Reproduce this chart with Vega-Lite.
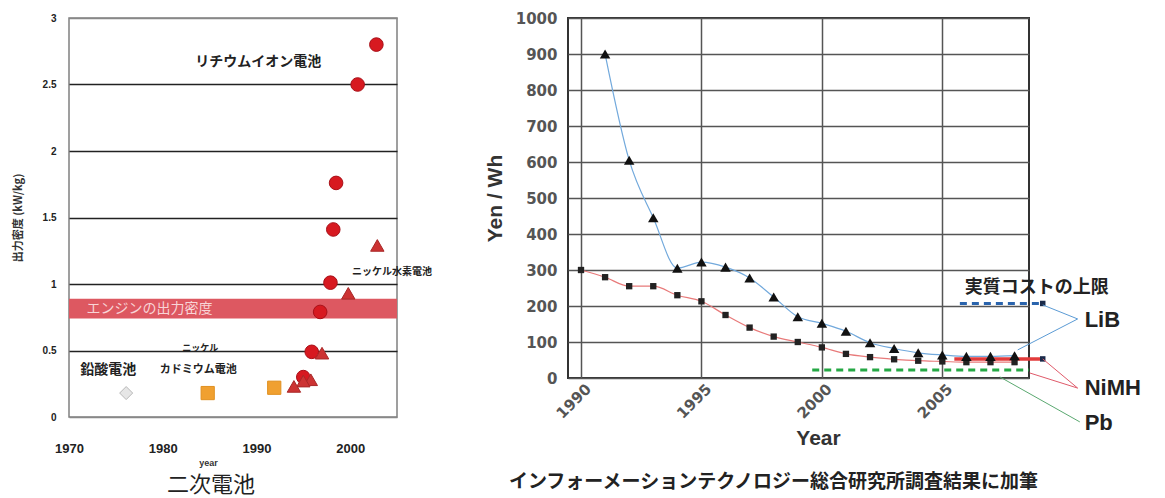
{
  "$schema": "https://vega.github.io/schema/vega-lite/v6.json",
  "padding": {"left": 11, "top": 10, "right": 0, "bottom": 0},
  "background": "white",
  "config": {"view": {"stroke": null}, "font": "Liberation Sans"},
  "spacing": 171,
  "bounds": "flush",
  "datasets": {
    "pts": [
      {"year": 2002.8, "v": 2.80, "type": "Li-ion"},
      {"year": 2000.8, "v": 2.50, "type": "Li-ion"},
      {"year": 1998.5, "v": 1.76, "type": "Li-ion"},
      {"year": 1998.2, "v": 1.41, "type": "Li-ion"},
      {"year": 1997.9, "v": 1.01, "type": "Li-ion"},
      {"year": 1996.8, "v": 0.79, "type": "Li-ion"},
      {"year": 1995.9, "v": 0.49, "type": "Li-ion"},
      {"year": 1995.0, "v": 0.30, "type": "Li-ion"},
      {"year": 2002.9, "v": 1.29, "type": "NiMH"},
      {"year": 1999.8, "v": 0.93, "type": "NiMH"},
      {"year": 1997.0, "v": 0.48, "type": "NiMH"},
      {"year": 1995.8, "v": 0.28, "type": "NiMH"},
      {"year": 1995.0, "v": 0.27, "type": "NiMH"},
      {"year": 1994.0, "v": 0.23, "type": "NiMH"},
      {"year": 1984.8, "v": 0.18, "type": "NiCd"},
      {"year": 1991.9, "v": 0.22, "type": "NiCd"},
      {"year": 1976.1, "v": 0.18, "type": "Pb"}
    ],
    "lib": [
      {"year": 1991, "v": 900}, {"year": 1992, "v": 605}, {"year": 1993, "v": 445},
      {"year": 1994, "v": 305}, {"year": 1995, "v": 322}, {"year": 1996, "v": 308},
      {"year": 1997, "v": 278}, {"year": 1998, "v": 225}, {"year": 1999, "v": 170},
      {"year": 2000, "v": 152}, {"year": 2001, "v": 130}, {"year": 2002, "v": 98},
      {"year": 2003, "v": 82}, {"year": 2004, "v": 70}, {"year": 2005, "v": 64},
      {"year": 2006, "v": 60}, {"year": 2007, "v": 60}, {"year": 2008, "v": 62}
    ],
    "nimh": [
      {"year": 1990, "v": 300}, {"year": 1991, "v": 280}, {"year": 1992, "v": 255},
      {"year": 1993, "v": 255}, {"year": 1994, "v": 230}, {"year": 1995, "v": 213},
      {"year": 1996, "v": 175}, {"year": 1997, "v": 140}, {"year": 1998, "v": 115},
      {"year": 1999, "v": 100}, {"year": 2000, "v": 85}, {"year": 2001, "v": 67},
      {"year": 2002, "v": 58}, {"year": 2003, "v": 52}, {"year": 2004, "v": 48},
      {"year": 2005, "v": 46}, {"year": 2006, "v": 44}, {"year": 2007, "v": 44},
      {"year": 2008, "v": 44}
    ]
  },
  "hconcat": [
    {
      "width": 328,
      "height": 399,
      "view": {"stroke": "#808080", "strokeWidth": 1.5},
      "title": {"text": "二次電池", "orient": "bottom", "font": "Noto Sans CJK JP", "fontSize": 22, "fontWeight": "normal", "color": "#222", "dx": -22, "offset": 8},
      "encoding": {
        "x": {"field": "year", "type": "quantitative", "scale": {"domain": [1970, 2005], "nice": false, "zero": false},
          "axis": {"values": [1970, 1980, 1990, 2000], "format": "d", "grid": false, "domain": false, "ticks": false,
            "labelFont": "Liberation Sans", "labelFontWeight": "bold", "labelFontSize": 13, "labelColor": "#222",
            "labelPadding": 25, "labelFlush": false, "labelOverlap": false,
            "title": "year", "titleFontSize": 9, "titleFontWeight": "bold", "titleColor": "#333",
            "titleX": 139, "titleY": 45, "titleBaseline": "middle", "titleAlign": "center"}},
        "y": {"field": "v", "type": "quantitative", "scale": {"domain": [0, 3], "nice": false, "zero": false},
          "axis": {"values": [0, 0.5, 1, 1.5, 2, 2.5, 3], "format": "~g", "grid": true,
            "gridColor": {"condition": {"test": "datum.value === 0 || datum.value === 3", "value": "#888"}, "value": "#222"},
            "gridWidth": 1.5, "domain": false, "ticks": false,
            "labelFont": "Liberation Sans", "labelFontSize": 10, "labelFontWeight": "bold", "labelColor": "#222",
            "labelPadding": 13, "labelFlush": false,
            "title": "出力密度 (kW/kg)", "titleFont": "Noto Sans CJK JP", "titleFontSize": 11, "titleFontWeight": "bold",
            "titleColor": "#333", "titlePadding": 19}}
      },
      "layer": [
        {
          "data": {"values": [{"year": 1970, "year2": 2005, "v": 0.74, "v2": 0.89}]},
          "mark": {"type": "rect", "color": "#dd5861"},
          "encoding": {"x2": {"field": "year2"}, "y2": {"field": "v2"}}
        },
        {
          "data": {"name": "pts"},
          "mark": {"type": "point", "filled": true, "opacity": 1, "strokeWidth": 1},
          "encoding": {
            "shape": {"field": "type", "type": "nominal", "legend": null,
              "scale": {"domain": ["Li-ion", "NiMH", "NiCd", "Pb"], "range": ["circle", "triangle-up", "square", "diamond"]}},
            "color": {"field": "type", "type": "nominal", "legend": null,
              "scale": {"domain": ["Li-ion", "NiMH", "NiCd", "Pb"], "range": ["#d71920", "#cc3333", "#f0a030", "#e6e6e6"]}},
            "stroke": {"field": "type", "type": "nominal", "legend": null,
              "scale": {"domain": ["Li-ion", "NiMH", "NiCd", "Pb"], "range": ["#a81018", "#a82828", "#e09020", "#b8b8b8"]}},
            "size": {"field": "type", "type": "nominal", "legend": null,
              "scale": {"domain": ["Li-ion", "NiMH", "NiCd", "Pb"], "range": [185, 170, 190, 110]}}
          }
        },
        {
          "data": {"values": [{"year": 1990.2, "v": 2.67, "label": "リチウムイオン電池"}, {"year": 1974.2, "v": 0.35, "label": "鉛酸電池"}]},
          "mark": {"type": "text", "font": "Noto Sans CJK JP", "fontSize": 14, "fontWeight": "bold", "color": "#222", "align": "center", "baseline": "middle"},
          "encoding": {"text": {"field": "label"}}
        },
        {
          "data": {"values": [{"year": 2000.2, "v": 1.09, "label": "ニッケル水素電池"}]},
          "mark": {"type": "text", "font": "Noto Sans CJK JP", "fontSize": 10, "fontWeight": "bold", "color": "#222", "align": "left", "baseline": "middle", "clip": false},
          "encoding": {"text": {"field": "label"}}
        },
        {
          "data": {"values": [{"year": 1984.0, "v": 0.52, "label": "ニッケル"}]},
          "mark": {"type": "text", "font": "Noto Sans CJK JP", "fontSize": 9, "fontWeight": "bold", "color": "#222", "align": "center", "baseline": "middle"},
          "encoding": {"text": {"field": "label"}}
        },
        {
          "data": {"values": [{"year": 1983.8, "v": 0.35, "label": "カドミウム電池"}]},
          "mark": {"type": "text", "font": "Noto Sans CJK JP", "fontSize": 11, "fontWeight": "bold", "color": "#222", "align": "center", "baseline": "middle"},
          "encoding": {"text": {"field": "label"}}
        },
        {
          "data": {"values": [{"year": 1978.6, "v": 0.81, "label": "エンジンの出力密度"}]},
          "mark": {"type": "text", "font": "Noto Sans CJK JP", "fontSize": 14, "fontWeight": "normal", "color": "#f8d4d6", "align": "center", "baseline": "middle"},
          "encoding": {"text": {"field": "label"}}
        }
      ]
    },
    {
      "width": 461,
      "height": 360,
      "view": {"stroke": "#333", "strokeWidth": 2},
      "title": {"text": "インフォーメーションテクノロジー総合研究所調査結果に加筆", "orient": "bottom", "font": "Noto Sans CJK JP", "fontSize": 19, "fontWeight": "bold", "color": "#222", "dx": -25, "offset": 25},
      "encoding": {
        "x": {"field": "year", "type": "quantitative", "scale": {"domain": [1989.46, 2008.6], "nice": false, "zero": false},
          "axis": {"values": [1990, 1995, 2000, 2005], "format": "d", "grid": true, "gridColor": "#555", "gridWidth": 1.5,
            "domain": false, "ticks": false, "labelAngle": -45, "labelAlign": "right", "labelBaseline": "middle",
            "labelFont": "DejaVu Sans", "labelFontSize": 15, "labelFontWeight": "bold", "labelColor": "#555", "labelPadding": 8, "labelOffset": 7,
            "labelFlush": false, "labelOverlap": false,
            "title": "Year", "titleFont": "Liberation Sans", "titleFontSize": 21, "titleFontWeight": "bold", "titleColor": "#333",
            "titleX": 250, "titleY": 60, "titleBaseline": "middle", "titleAlign": "center"}},
        "y": {"field": "v", "type": "quantitative", "scale": {"domain": [0, 1000], "nice": false, "zero": false},
          "axis": {"values": [0, 100, 200, 300, 400, 500, 600, 700, 800, 900, 1000], "format": "d", "grid": true, "gridColor": "#555", "gridWidth": 1.5,
            "domain": false, "ticks": false, "labelFont": "DejaVu Sans", "labelFontSize": 15, "labelFontWeight": "bold", "labelColor": "#555",
            "labelPadding": 11, "labelFlush": false,
            "title": "Yen / Wh", "titleFont": "Liberation Sans", "titleFontSize": 21, "titleFontWeight": "bold", "titleColor": "#333",
            "titlePadding": 10}}
      },
      "layer": [
        {
          "data": {"name": "lib"},
          "mark": {"type": "line", "color": "#72a9dc", "strokeWidth": 1.2, "interpolate": "monotone"}
        },
        {
          "data": {"name": "nimh"},
          "mark": {"type": "line", "color": "#e87a7a", "strokeWidth": 1.2, "interpolate": "monotone"}
        },
        {
          "data": {"values": [{"year": 1999.6, "v": 22}, {"year": 2008.6, "v": 22}]},
          "mark": {"type": "line", "color": "#25a845", "strokeWidth": 3, "strokeDash": [7, 5]}
        },
        {
          "data": {"values": [{"year": 2005.5, "v": 53}, {"year": 2009.17, "v": 53}]},
          "mark": {"type": "line", "color": "#e23b3b", "strokeWidth": 3.5, "clip": false}
        },
        {
          "data": {"values": [{"year": 2005.73, "v": 207}, {"year": 2009.17, "v": 207}]},
          "mark": {"type": "line", "color": "#2a64ad", "strokeWidth": 3, "strokeDash": [7, 5], "clip": false}
        },
        {
          "data": {"name": "nimh"},
          "mark": {"type": "point", "shape": "square", "filled": true, "color": "#222", "size": 40, "opacity": 1}
        },
        {
          "data": {"name": "lib"},
          "mark": {"type": "point", "shape": "triangle-up", "filled": true, "color": "#111", "size": 110, "opacity": 1}
        },
        {
          "data": {"values": [{"year": 2009.17, "v": 207}, {"year": 2009.17, "v": 53}]},
          "mark": {"type": "point", "shape": "square", "filled": true, "color": "#1a2a4a", "size": 30, "opacity": 1, "clip": false}
        },
        {
          "data": {"values": [
            {"year": 2010.62, "v": 164, "year2": 2009.17, "v2": 203},
            {"year": 2010.62, "v": 164, "year2": 2008.13, "v2": 78}
          ]},
          "mark": {"type": "rule", "strokeWidth": 1, "clip": false, "color": "#5b9bd5"},
          "encoding": {"x2": {"field": "year2"}, "y2": {"field": "v2"}}
        },
        {
          "data": {"values": [
            {"year": 2010.62, "v": -28, "year2": 2009.17, "v2": 53},
            {"year": 2010.62, "v": -28, "year2": 2008.63, "v2": 14}
          ]},
          "mark": {"type": "rule", "strokeWidth": 1, "clip": false, "color": "#e05a6a"},
          "encoding": {"x2": {"field": "year2"}, "y2": {"field": "v2"}}
        },
        {
          "data": {"values": [
            {"year": 2010.71, "v": -122, "year2": 2007.39, "v2": 3}
          ]},
          "mark": {"type": "rule", "strokeWidth": 1, "clip": false, "color": "#5aa870"},
          "encoding": {"x2": {"field": "year2"}, "y2": {"field": "v2"}}
        },
        {
          "data": {"values": [
            {"year": 2010.91, "v": 161, "label": "LiB"},
            {"year": 2010.91, "v": -28, "label": "NiMH"},
            {"year": 2010.91, "v": -125, "label": "Pb"}
          ]},
          "mark": {"type": "text", "font": "Liberation Sans", "fontSize": 22, "fontWeight": "bold", "color": "#222", "align": "left", "baseline": "middle", "clip": false},
          "encoding": {"text": {"field": "label"}}
        },
        {
          "data": {"values": [{"year": 2008.92, "v": 250, "label": "実質コストの上限"}]},
          "mark": {"type": "text", "font": "Noto Sans CJK JP", "fontSize": 18, "fontWeight": "bold", "color": "#222", "align": "center", "baseline": "middle", "clip": false},
          "encoding": {"text": {"field": "label"}}
        }
      ]
    }
  ]
}
